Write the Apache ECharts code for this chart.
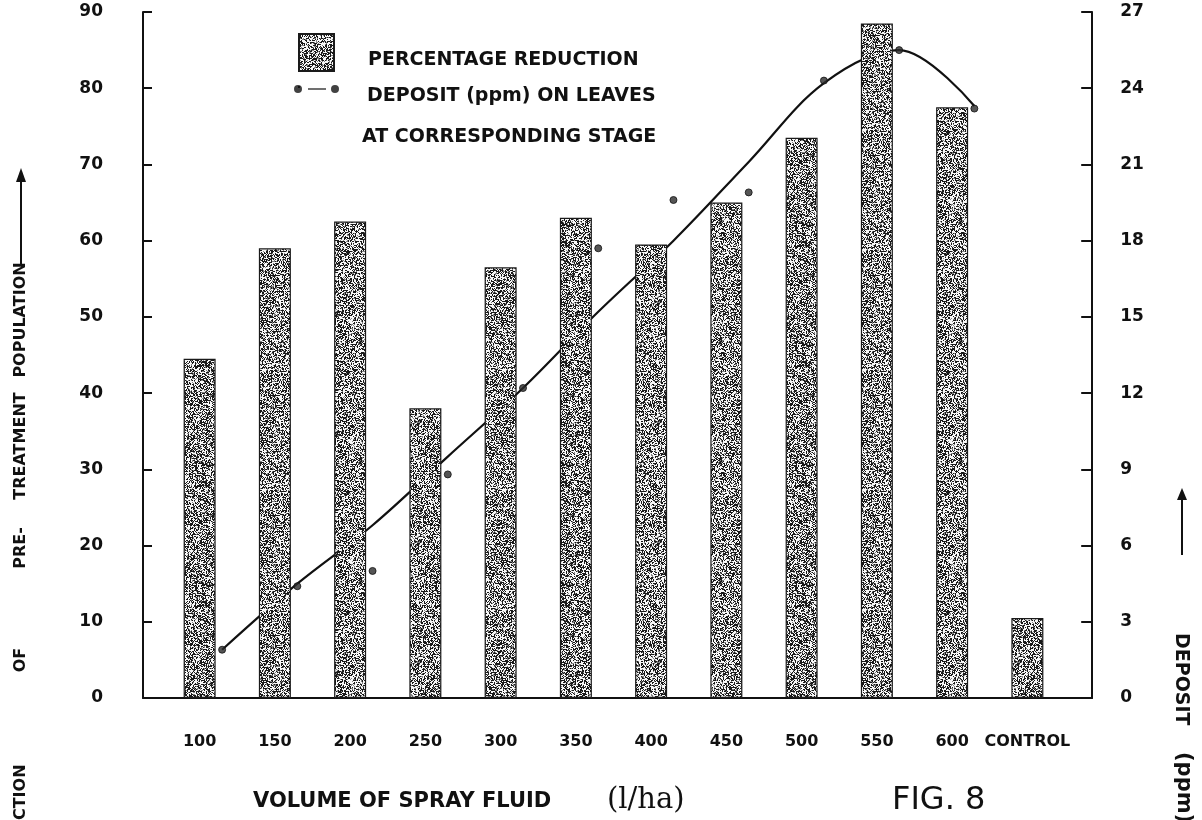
<!DOCTYPE html>
<html>
<head>
<meta charset="utf-8">
<title>Fig. 8 – Spray volume, reduction and deposit</title>
<script src="https://cdn.jsdelivr.net/npm/echarts@6/dist/echarts.min.js"></script>
<style>
  html, body { margin: 0; padding: 0; background: #ffffff; }
  #chart { width: 1202px; height: 820px; }
</style>
</head>
<body>
<div id="chart"></div>
<script>
// Spray-fluid volumes (l/ha) plus the untreated control
const categories = ['100', '150', '200', '250', '300', '350', '400', '450', '500', '550', '600', 'CONTROL'];

// Percentage reduction of the pre-treatment population (left axis)
const reduction = [44.5, 59, 62.5, 38, 56.5, 63, 59.5, 65, 73.5, 88.5, 77.5, 10.5];

// Measured deposit on leaves, ppm (right axis); none for the control
const deposit = [1.9, 4.4, 5.0, 8.8, 12.2, 17.7, 19.6, 19.9, 24.3, 25.5, 23.2, null];

// Hand-fitted trend through the deposit readings, ppm
const depositTrend = [1.9, 4.5, 6.8, 9.5, 12.2, 15.2, 18.0, 21.1, 24.2, 25.5, 23.3, null];

// Axis scales
const reductionAxis = { min: 0, max: 90, interval: 10 };
const depositAxis = { min: 0, max: 27, interval: 3 };

// Words of the left axis title, set one by one along the axis
const leftTitleWords = ['REDUCTION', 'OF', 'PRE-', 'TREATMENT', 'POPULATION'];

const INK = '#111111';
const FONT = '"DejaVu Sans", "Liberation Sans", sans-serif';

// Stippled screen-tone texture for the bars
function makeStipple() {
  const size = 120;
  const c = document.createElement('canvas');
  c.width = size; c.height = size;
  const ctx = c.getContext('2d');
  const img = ctx.createImageData(size, size);
  let s = 2463534242;
  for (let i = 0; i < size * size; i++) {
    s ^= s << 13; s >>>= 0;
    s ^= s >>> 17;
    s ^= s << 5; s >>>= 0;
    const r = (s % 1000) / 1000;
    const v = r < 0.42 ? 25 : (r < 0.55 ? 130 : 248);
    img.data[i * 4] = v;
    img.data[i * 4 + 1] = v;
    img.data[i * 4 + 2] = v;
    img.data[i * 4 + 3] = 255;
  }
  ctx.putImageData(img, 0, 0);
  return c;
}
const stipple = { image: makeStipple(), repeat: 'repeat' };

const GRID_TOP = 12, GRID_BOTTOM = 122;

// Rotated title words for the left axis (reading upwards)
const leftTitleCentres = [817, 660, 548, 446, 320];
const leftTitle = leftTitleWords.map((w, i) => ({
  type: 'text', x: 21, y: leftTitleCentres[i], rotation: Math.PI / 2,
  style: { text: w, fill: INK, font: 'bold 16px ' + FONT, align: 'center', verticalAlign: 'middle' }
}));

// Legend keys: the visible key sits in the top part of each icon box,
// so the caption lines up slightly below the key's centre
const barKeyIcon = 'path://M0,0h35v37h-35Z M0,53h0.01v0.01h-0.01Z';
const depositKeyIcon = 'path://M0,5a4,4 0 1,0 8,0a4,4 0 1,0 -8,0Z M14,4.2h18v1.6h-18Z M37,5a4,4 0 1,0 8,0a4,4 0 1,0 -8,0Z M0,24h0.01v0.01h-0.01Z';

const chart = echarts.init(document.getElementById('chart'), null, { renderer: 'canvas' });

chart.setOption({
  backgroundColor: '#ffffff',
  animation: false,
  grid: [
    // bars
    { left: 162, right: 137, top: GRID_TOP, bottom: GRID_BOTTOM },
    // deposit readings, drawn just right of each bar
    { left: 184.5, right: 114.8, top: GRID_TOP, bottom: GRID_BOTTOM },
    // full-width base line
    { left: 143, right: 110, top: GRID_TOP, bottom: GRID_BOTTOM }
  ],
  xAxis: [
    {
      gridIndex: 0, type: 'category', data: categories, boundaryGap: true,
      axisLine: { show: false }, axisTick: { show: false },
      axisLabel: { interval: 0, color: INK, fontFamily: FONT, fontWeight: 'bold', fontSize: 16, margin: 36 }
    },
    {
      gridIndex: 1, type: 'category', data: categories, boundaryGap: true, show: false
    },
    {
      gridIndex: 2, type: 'value', min: 0, max: 1,
      axisLine: { show: true, lineStyle: { color: INK, width: 2 } },
      axisTick: { show: false }, axisLabel: { show: false }, splitLine: { show: false }
    }
  ],
  yAxis: [
    {
      gridIndex: 0, type: 'value', position: 'left', offset: 19,
      min: reductionAxis.min, max: reductionAxis.max, interval: reductionAxis.interval,
      axisLine: { show: true, lineStyle: { color: INK, width: 2 } },
      axisTick: { show: true, inside: true, length: 9, lineStyle: { color: INK, width: 2 } },
      axisLabel: { color: INK, fontFamily: FONT, fontWeight: 'bold', fontSize: 17, margin: 40 },
      splitLine: { show: false }
    },
    {
      gridIndex: 1, type: 'value', position: 'right', offset: 5,
      min: depositAxis.min, max: depositAxis.max, interval: depositAxis.interval,
      axisLine: { show: true, lineStyle: { color: INK, width: 2 } },
      axisTick: { show: true, inside: true, length: 11, lineStyle: { color: INK, width: 2 } },
      axisLabel: { color: INK, fontFamily: FONT, fontWeight: 'bold', fontSize: 17, margin: 28 },
      splitLine: { show: false }
    },
    {
      gridIndex: 2, type: 'value', min: 0, max: 1, show: false
    }
  ],
  legend: [
    {
      left: 298, top: 33, orient: 'vertical', padding: 0,
      itemWidth: 35, itemHeight: 53, selectedMode: false,
      data: [{ name: 'PERCENTAGE REDUCTION', icon: barKeyIcon }],
      textStyle: { color: INK, fontFamily: FONT, fontWeight: 'bold', fontSize: 19, padding: [0, 0, 0, 29] }
    },
    {
      left: 294, top: 85, orient: 'vertical', padding: 0,
      itemWidth: 45, itemHeight: 24, selectedMode: false,
      itemStyle: { borderWidth: 0, color: INK },
      data: [{ name: 'DEPOSIT (ppm) ON LEAVES', icon: depositKeyIcon, itemStyle: { borderWidth: 0, color: INK } }],
      textStyle: { color: INK, fontFamily: FONT, fontWeight: 'bold', fontSize: 19, padding: [0, 0, 0, 23] }
    }
  ],
  series: [
    {
      name: 'trend',
      type: 'line',
      xAxisIndex: 1, yAxisIndex: 1,
      data: depositTrend,
      smooth: 0.35,
      showSymbol: false,
      lineStyle: { color: INK, width: 2.2 },
      z: 1,
      silent: true
    },
    {
      name: 'PERCENTAGE REDUCTION',
      type: 'bar',
      xAxisIndex: 0, yAxisIndex: 0,
      data: reduction,
      barWidth: 32,
      itemStyle: { color: stipple, borderColor: '#1a1a1a', borderWidth: 1.2 },
      z: 2
    },
    {
      name: 'DEPOSIT (ppm) ON LEAVES',
      type: 'scatter',
      xAxisIndex: 1, yAxisIndex: 1,
      data: deposit,
      symbol: 'circle',
      symbolSize: 7,
      itemStyle: { color: '#2a2a2a', borderColor: INK, borderWidth: 1 },
      z: 5
    }
  ],
  graphic: leftTitle.concat([
    // second legend line
    {
      type: 'text', x: 362, y: 137,
      style: { text: 'AT CORRESPONDING STAGE', fill: INK, font: 'bold 19px ' + FONT, align: 'left', verticalAlign: 'middle' }
    },

    // left axis arrow
    { type: 'line', shape: { x1: 21, y1: 265, x2: 21, y2: 176 }, style: { stroke: INK, lineWidth: 2 } },
    { type: 'polygon', shape: { points: [[21, 168], [16, 182], [26, 182]] }, style: { fill: INK } },

    // right axis title and arrow
    {
      type: 'text', x: 1181, y: 633, rotation: -Math.PI / 2,
      style: { text: 'DEPOSIT', fill: INK, font: 'bold 19px ' + FONT, align: 'left', verticalAlign: 'middle' }
    },
    {
      type: 'text', x: 1183, y: 752, rotation: -Math.PI / 2,
      style: { text: '(ppm)', fill: INK, font: 'bold 21px ' + FONT, align: 'left', verticalAlign: 'middle' }
    },
    { type: 'line', shape: { x1: 1182, y1: 555, x2: 1182, y2: 496 }, style: { stroke: INK, lineWidth: 2 } },
    { type: 'polygon', shape: { points: [[1182, 488], [1177, 500], [1187, 500]] }, style: { fill: INK } },

    // x-axis title and figure number
    {
      type: 'text', x: 253, y: 802,
      style: { text: 'VOLUME OF SPRAY FLUID', fill: INK, font: 'bold 21px ' + FONT, align: 'left', verticalAlign: 'middle' }
    },
    {
      type: 'text', x: 607, y: 800,
      style: { text: '(l/ha)', fill: INK, font: '29px "DejaVu Serif", "Liberation Serif", serif', align: 'left', verticalAlign: 'middle' }
    },
    {
      type: 'text', x: 892, y: 801,
      style: { text: 'FIG. 8', fill: INK, font: '32px ' + FONT, align: 'left', verticalAlign: 'middle' }
    }
  ])
});
</script>
</body>
</html>
